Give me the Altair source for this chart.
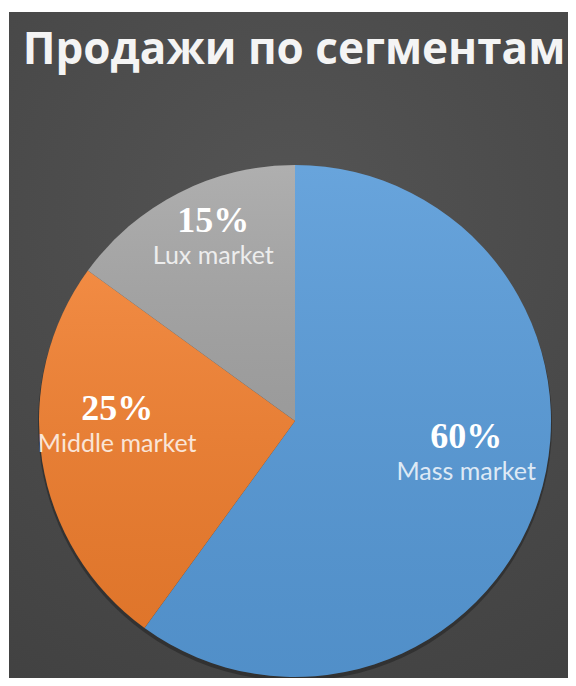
import altair as alt
import pandas as pd

# ---- data ----
SEGMENTS = ["Mass market", "Middle market", "Lux market"]
SHARES = [60, 25, 15]
LABELS = ["60%", "25%", "15%"]
COLORS = ["#579ad8", "#f07e2e", "#a6a6a6"]
TITLE = ["Продажи по сегментам"]

df = pd.DataFrame({
    "segment": SEGMENTS,
    "share": SHARES,
    "label": LABELS,
    "order": list(range(len(SEGMENTS))),
})
title_df = pd.DataFrame({"title": TITLE})

W, H = 559, 666
CX, CY = 286, 409
R = 256
LR = 180

theta = alt.Theta("share:Q", stack=True)
order = alt.Order("order:Q", sort="ascending")
detail = alt.Detail("segment:N")
color = alt.Color("segment:N", scale=alt.Scale(domain=SEGMENTS, range=COLORS), legend=None)

bg_grad = alt.Gradient(
    gradient="radial", x1=0.5, y1=0.3, r1=0, x2=0.5, y2=0.3, r2=0.8,
    stops=[alt.GradientStop(color="#545454", offset=0),
           alt.GradientStop(color="#424242", offset=1)],
)
bg = alt.Chart(title_df).mark_rect(fill=bg_grad).encode(
    x=alt.value(0), x2=alt.value(W), y=alt.value(0), y2=alt.value(H)
)

base = alt.Chart(df)

shadow = base.mark_arc(outerRadius=R + 1, color="#1a1a1a", opacity=0.45).encode(
    theta=theta, order=order, detail=detail, x=alt.value(CX), y=alt.value(CY + 3)
)

pie = base.mark_arc(outerRadius=R).encode(
    theta=theta, color=color, order=order, x=alt.value(CX), y=alt.value(CY)
)

shade_grad = alt.Gradient(
    gradient="linear", x1=0, y1=0, x2=0, y2=1,
    stops=[alt.GradientStop(color="rgba(255,255,255,0.10)", offset=0),
           alt.GradientStop(color="rgba(0,0,0,0.07)", offset=1)],
)
shade = base.mark_arc(outerRadius=R, fill=shade_grad).encode(
    theta=theta, order=order, detail=detail, x=alt.value(CX), y=alt.value(CY)
)

pct = base.mark_text(
    radius=LR, font="Liberation Serif", fontWeight="bold", fontSize=36,
    color="white", align="center", baseline="alphabetic", dy=-13,
).encode(
    theta=theta, order=order, detail=detail, text="label:N",
    x=alt.value(CX), y=alt.value(CY - 16),
)

names = base.mark_text(
    radius=LR, font="Lato", fontSize=25, color="white", opacity=0.8,
    align="center", baseline="alphabetic", dy=19,
).encode(
    theta=theta, order=order, detail=detail, text="segment:N",
    x=alt.value(CX), y=alt.value(CY - 16),
)

title_text = alt.Chart(title_df).mark_text(
    font="Open Sans", fontWeight="bold", fontSize=44, color="#f4f4f4",
    align="center", baseline="alphabetic",
).encode(text="title:N", x=alt.value(285), y=alt.value(52))

chart = alt.layer(
    bg, shadow, pie, shade, pct, names, title_text
).properties(
    width=W, height=H,
    padding={"left": 1, "top": 4, "right": 0, "bottom": 0},
    autosize=alt.AutoSizeParams(type="none"),
    background="white",
).configure_view(stroke=None)

chart.save("out.html", embed_options={"renderer": "svg", "actions": False})
